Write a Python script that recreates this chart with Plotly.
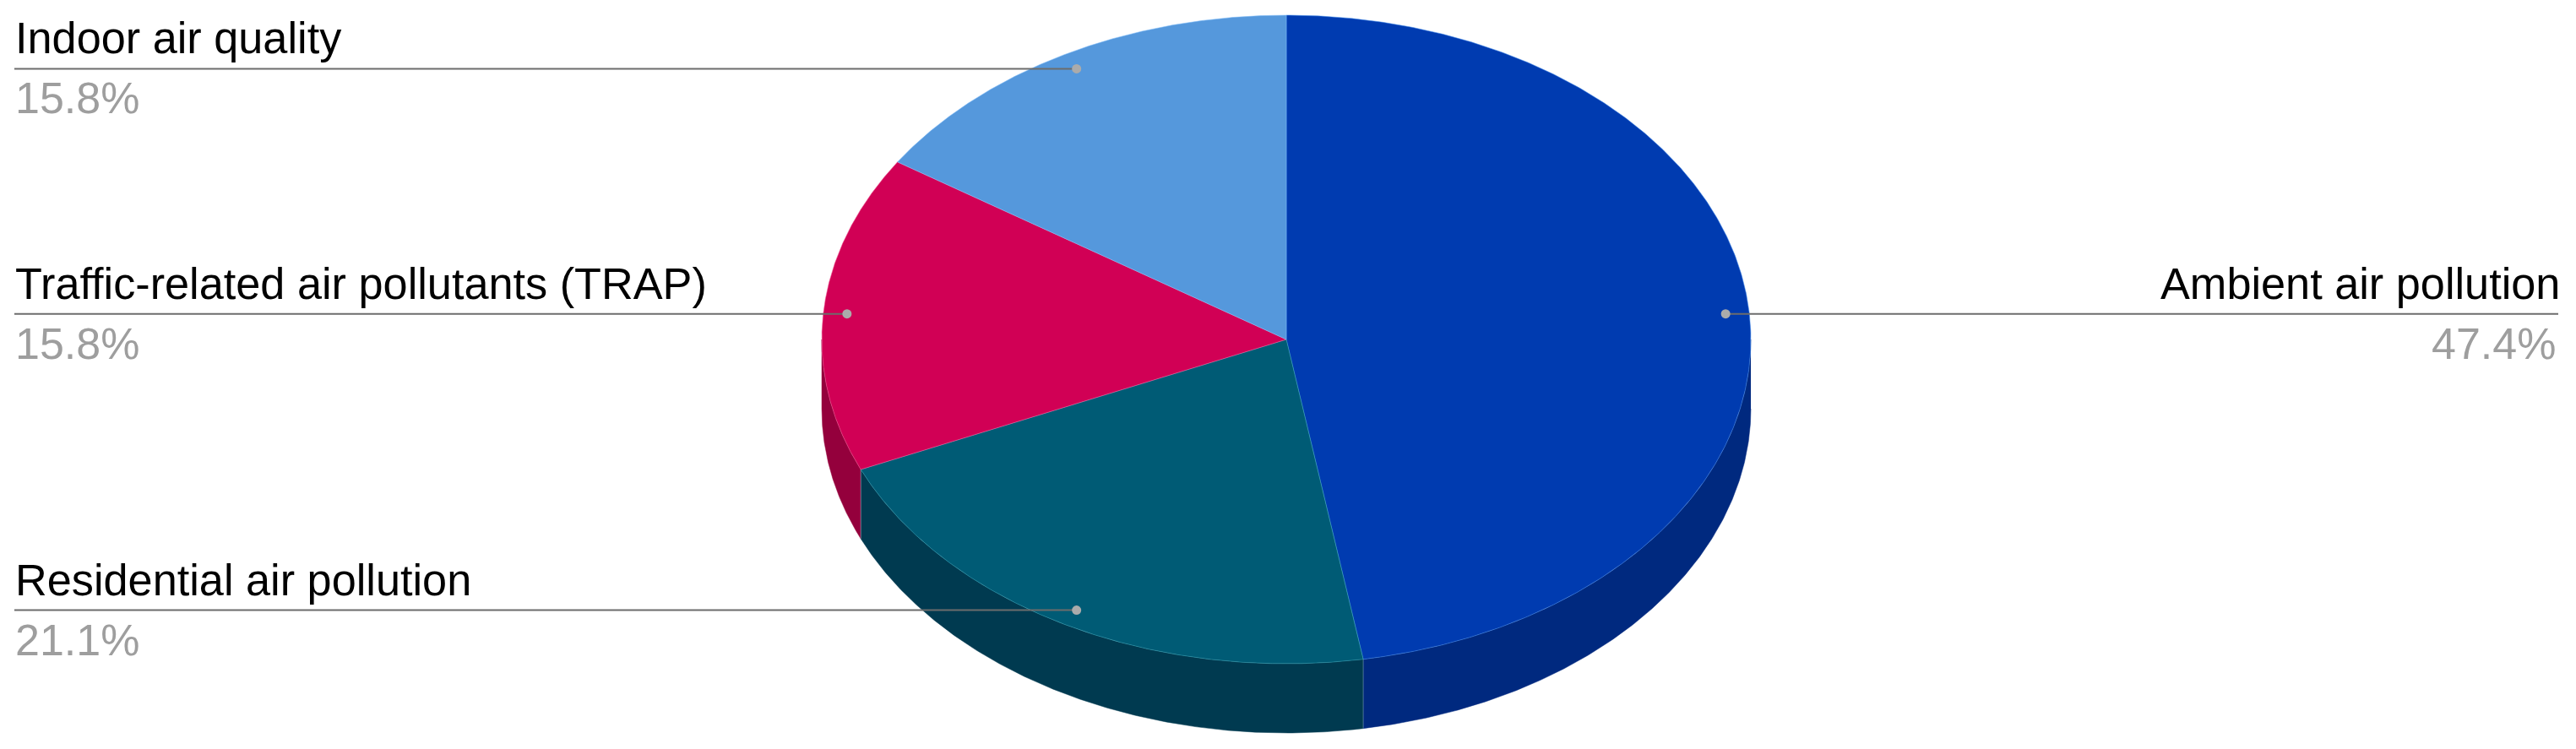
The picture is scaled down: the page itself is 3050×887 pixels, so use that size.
import numpy as np
import plotly.graph_objects as go

# Data, listed clockwise from 12 o'clock
categories = ["Ambient air pollution", "Residential air pollution",
              "Traffic-related air pollutants (TRAP)", "Indoor air quality"]
values = [47.4, 21.1, 15.8, 15.8]
percent_labels = ["47.4%", "21.1%", "15.8%", "15.8%"]
top_colors = ["#003BB0", "#005B75", "#D10055", "#5598DC"]
side_colors = ["#00297F", "#003A50", "#94003C", "#3A6A9C"]
seam_colors = ["rgba(70,140,235,0.55)", "rgba(50,160,180,0.55)",
               "rgba(240,90,150,0.55)", "rgba(130,190,250,0.55)"]

W, H = 3050, 887
CX, CY, RX, RY, DEPTH = 1523, 402, 550, 384, 82
ANCHOR = 0.949
LEFT_X, RIGHT_X = 17, 3029
FONT = "Liberation Sans, Arial, sans-serif"
LABEL_SIZE = 52.25
PCT_SIZE = 52


def ex(a):
    return CX + RX * np.sin(a)


def ey(a):
    return CY - RY * np.cos(a)


fig = go.Figure()
v = np.array(values, dtype=float)
edges = np.concatenate([[0], np.cumsum(v) / v.sum()]) * 2 * np.pi

# Side wall: only the front half (90 deg to 270 deg clockwise from the top) shows
for i in range(len(v)):
    a0, a1 = max(edges[i], np.pi / 2), min(edges[i + 1], 3 * np.pi / 2)
    if a1 <= a0:
        continue
    t = np.linspace(a0, a1, 200)
    xs = np.concatenate([ex(t), ex(t[::-1])])
    ys = np.concatenate([ey(t), ey(t[::-1]) + DEPTH])
    fig.add_trace(go.Scatter(x=xs, y=ys, mode="lines", fill="toself",
                             fillcolor=side_colors[i],
                             line=dict(color=side_colors[i], width=0.5),
                             hoverinfo="skip", showlegend=False))

# Top face
for i in range(len(v)):
    t = np.linspace(edges[i], edges[i + 1], 400)
    xs = np.concatenate([[CX], ex(t), [CX]])
    ys = np.concatenate([[CY], ey(t), [CY]])
    fig.add_trace(go.Scatter(x=xs, y=ys, mode="lines", fill="toself",
                             fillcolor=top_colors[i],
                             line=dict(color=seam_colors[i], width=1),
                             hoverinfo="skip", showlegend=False))

# Seams on the wall at slice boundaries
for e in edges[1:3]:
    fig.add_trace(go.Scatter(x=[ex(e), ex(e)], y=[ey(e), ey(e) + DEPTH], mode="lines",
                             line=dict(color="rgba(150,190,200,0.45)", width=1),
                             hoverinfo="skip", showlegend=False))

# Leaders and labels
annotations = []
mids = (edges[:-1] + edges[1:]) / 2
for name, pct, m in zip(categories, percent_labels, mids):
    px = CX + ANCHOR * RX * np.sin(m)
    py = CY - ANCHOR * RY * np.cos(m)
    right = np.sin(m) > 0
    end = RIGHT_X if right else LEFT_X
    fig.add_trace(go.Scatter(x=[px, end], y=[py, py], mode="lines",
                             line=dict(color="#6c6c6c", width=2),
                             hoverinfo="skip", showlegend=False))
    fig.add_trace(go.Scatter(x=[px], y=[py], mode="markers",
                             marker=dict(color="#ababab", size=11),
                             hoverinfo="skip", showlegend=False))
    anchor = "right" if right else "left"
    annotations.append(dict(x=end, y=py, text=name, showarrow=False, xanchor=anchor,
                            yanchor="bottom", yshift=6, xshift=3 if right else 0, borderpad=0,
                            font=dict(family=FONT, size=LABEL_SIZE, color="#000000")))
    annotations.append(dict(x=end, y=py, text=pct, showarrow=False, xanchor=anchor,
                            yanchor="top", yshift=-5, xshift=-2 if right else 0, borderpad=0,
                            font=dict(family=FONT, size=PCT_SIZE, color="#9e9e9e")))

fig.update_layout(
    width=W, height=H, margin=dict(l=0, r=0, t=0, b=0),
    paper_bgcolor="#ffffff", plot_bgcolor="#ffffff", showlegend=False,
    xaxis=dict(range=[0, W], visible=False, fixedrange=True),
    yaxis=dict(range=[H, 0], visible=False, fixedrange=True),
    annotations=annotations,
)
fig.write_html("out.html", config={"displayModeBar": False},
               post_script="document.body.style.margin='0';document.body.style.overflow='hidden';")
